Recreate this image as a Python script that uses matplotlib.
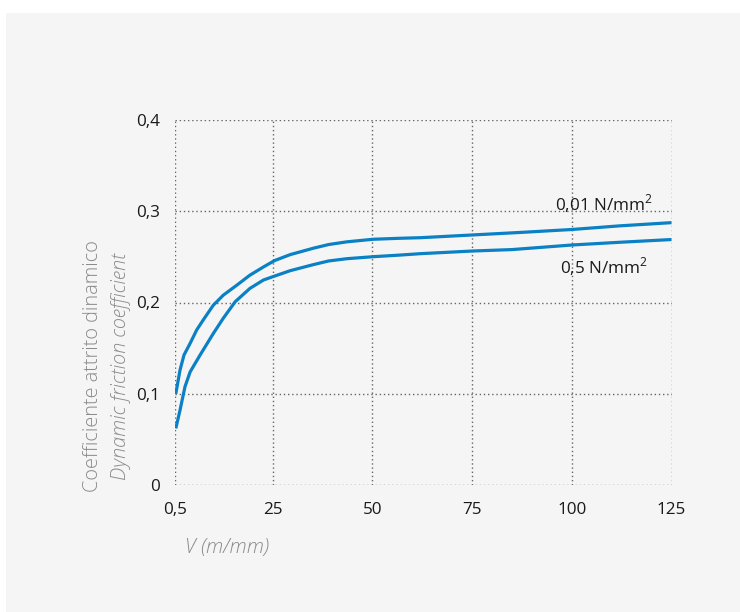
import matplotlib
matplotlib.use("Agg")
import matplotlib.pyplot as plt
from matplotlib.patches import Rectangle

plt.rcParams['font.family'] = ['Open Sans', 'DejaVu Sans']
plt.rcParams['mathtext.fontset'] = 'custom'
plt.rcParams['mathtext.rm'] = 'Open Sans'

# speed V (m/mm) and dynamic friction coefficient
v_hi = [0.7, 1.76, 2.76, 4.3, 5.95, 7.6, 10.1, 12.6, 16, 19.3, 22.7, 25.5, 29.4, 35.2,
        39, 43.6, 50.2, 57, 62, 75, 88, 100, 112, 125]
mu_hi = [0.100, 0.126, 0.1425, 0.1553, 0.170, 0.181, 0.197, 0.208, 0.219, 0.230, 0.239, 0.246,
         0.2525, 0.2595, 0.2635, 0.2665, 0.2693, 0.2704, 0.271, 0.274, 0.277, 0.280, 0.284, 0.2875]

v_lo = [0.7, 1.76, 3.0, 4.3, 6.8, 10.1, 12.6, 15.6, 19.3, 22.7, 25.5, 29.4, 35.2, 39, 43.6,
        50.2, 57, 62, 75, 85, 100, 112, 125]
mu_lo = [0.062, 0.082, 0.1077, 0.124, 0.1425, 0.166, 0.1827, 0.2009, 0.2155, 0.2247, 0.229,
         0.2349, 0.2415, 0.2455, 0.248, 0.2502, 0.252, 0.2535, 0.2564, 0.258, 0.263, 0.266, 0.269]

xticks = [0.5, 25, 50, 75, 100, 125]
xtick_labels = ['0,5', '25', '50', '75', '100', '125']
yticks = [0, 0.1, 0.2, 0.3, 0.4]
ytick_labels = ['0', '0,1', '0,2', '0,3', '0,4']

blue = '#0a80c5'
grey_txt = '#8a8a8a'

fig = plt.figure(figsize=(7.4, 6.12), dpi=100)
fig.patch.set_facecolor('white')
fig.patches.append(Rectangle((6/740, 0), 1 - 6/740, (612 - 13)/612, transform=fig.transFigure,
                             facecolor='#f5f5f5', edgecolor='none', zorder=-5))

ax = fig.add_axes([175/740, 127/612, 496.5/740, 365/612])
ax.set_zorder(2)
ax.set_facecolor('none')
ax.plot(v_hi, mu_hi, color=blue, lw=2.3, solid_capstyle='butt', solid_joinstyle='round', zorder=3)
ax.plot(v_lo, mu_lo, color=blue, lw=2.3, solid_capstyle='butt', solid_joinstyle='round', zorder=3)

ax.set_xlim(0.5, 125)
ax.set_ylim(0, 0.4)
ax.set_xticks(xticks)
ax.set_xticklabels(xtick_labels)
ax.set_yticks(yticks)
ax.set_yticklabels(ytick_labels)
ax.tick_params(length=0, labelsize=12.3, colors='#1a1a1a')
ax.tick_params(axis='x', pad=12)
ax.tick_params(axis='y', pad=11)
for s in ax.spines.values():
    s.set_visible(False)
ax.grid(True, linestyle=(0, (1, 2)), color='#666666', lw=1)

fig.text(604/740, (612 - 210)/612, r'0,01 N/mm$^\mathrm{2}$', ha='center', va='baseline',
         fontsize=12.3, color='#1a1a1a')
fig.text(604/740, (612 - 273)/612, r'0,5 N/mm$^\mathrm{2}$', ha='center', va='baseline',
         fontsize=12.3, color='#1a1a1a')

fig.text(93/740, (612 - 366)/612, 'Coefficiente attrito dinamico', rotation=90, ha='center',
         va='center', fontsize=14.3, color=grey_txt, fontweight='light')
fig.text(121/740, (612 - 366)/612, 'Dynamic friction coefficient', rotation=90, ha='center',
         va='center', fontsize=14.3, color=grey_txt, style='italic', fontweight='light')
fig.text(185/740, (612 - 553)/612, 'V (m/mm)', ha='left', va='baseline',
         fontsize=14.5, color=grey_txt, style='italic', fontweight='light')

fig.savefig('out.png', dpi=100)
